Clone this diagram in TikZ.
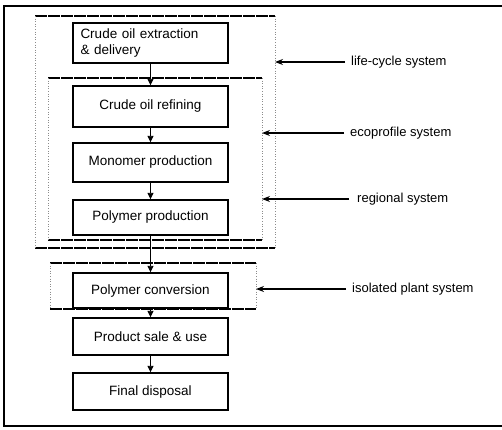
\documentclass[tikz,border=0pt]{standalone}
\usepackage{fontspec}
\setmainfont{Liberation Sans}
\usetikzlibrary{arrows.meta}
\newcommand\padR{\hspace{22pt}}
\begin{document}
\begin{tikzpicture}[x=1pt,y=-1pt,
  stage/.style={draw,line width=1.4pt,minimum width=155pt,inner sep=0pt,font=\fontsize{13.5}{16}\selectfont},
  flow/.style={-{Triangle[length=6.5pt,width=6pt]},line width=0.9pt},
  pointer/.style={-{Stealth[length=8pt,width=6pt]},line width=1.2pt},
  syslabel/.style={anchor=west,inner sep=0pt,font=\fontsize{13}{15}\selectfont},
  bound/.style={line width=1.3pt,dash pattern=on 12pt off 1pt},
  side/.style={dotted,line width=0.6pt,black!45}
]
\useasboundingbox (0,0) rectangle (502,429);

% outer frame
\draw[line width=1.2pt] (502,6) -- (4,6) -- (4,426) -- (502,426);

% life-cycle system boundary
\draw[bound] (35,16) -- (275,16);
\draw[bound] (35,248) -- (275,248);
\draw[side] (35,16) -- (35,248);
\draw[side] (275,16) -- (275,248);
\coordinate (lc) at (275,62);

% ecoprofile / regional boundary
\draw[bound] (48,78) -- (262,78);
\draw[bound] (48,240) -- (262,240);
\draw[side] (48,78) -- (48,240);
\draw[side] (262,78) -- (262,240);
\coordinate (eco) at (262,133);
\coordinate (reg) at (262,199);

% isolated plant boundary
\draw[bound] (50,263) -- (256,263);
\draw[bound] (50,309) -- (256,309);
\draw[side] (50,263) -- (50,309);
\draw[side] (256,263) -- (256,309);
\coordinate (iso) at (256,289);

% stages
\node[stage,minimum height=40pt,text width=140pt,align=left] (n1) at (150.5,43) {Crude oil extraction\\\& delivery};
\node[stage,minimum height=41pt] (n2) at (150.5,106.5) {Crude oil refining\padR};
\node[stage,minimum height=39pt] (n3) at (150.5,162.5) {Monomer production\padR};
\node[stage,minimum height=35pt] (n4) at (150.5,217.5) {Polymer production\padR};
\node[stage,minimum height=35pt] (n5) at (150.5,290.5) {Polymer conversion\padR};
\node[stage,minimum height=37pt] (n6) at (150.5,336.5) {Product sale \& use\padR};
\node[stage,minimum height=37pt] (n7) at (150.5,391.5) {Final disposal\padR};

\draw[flow] (n1) -- (n2);
\draw[flow] (n2) -- (n3);
\draw[flow] (n3) -- (n4);
\draw[flow] (n4) -- (n5);
\draw[flow] (n5) -- (n6);
\draw[flow] (n6) -- (n7);

% system labels
\node[syslabel] (t1) at (351,62) {life-cycle system};
\node[syslabel] (t2) at (350,133) {ecoprofile system};
\node[syslabel] (t3) at (357,199) {regional system};
\node[syslabel] (t4) at (352,289) {isolated plant system};

\draw[pointer] ([xshift=-6pt]t1.west) -- (lc);
\draw[pointer] ([xshift=-6pt]t2.west) -- (eco);
\draw[pointer] ([xshift=-8pt]t3.west) -- (reg);
\draw[pointer] ([xshift=-6pt]t4.west) -- (iso);
\end{tikzpicture}
\end{document}
